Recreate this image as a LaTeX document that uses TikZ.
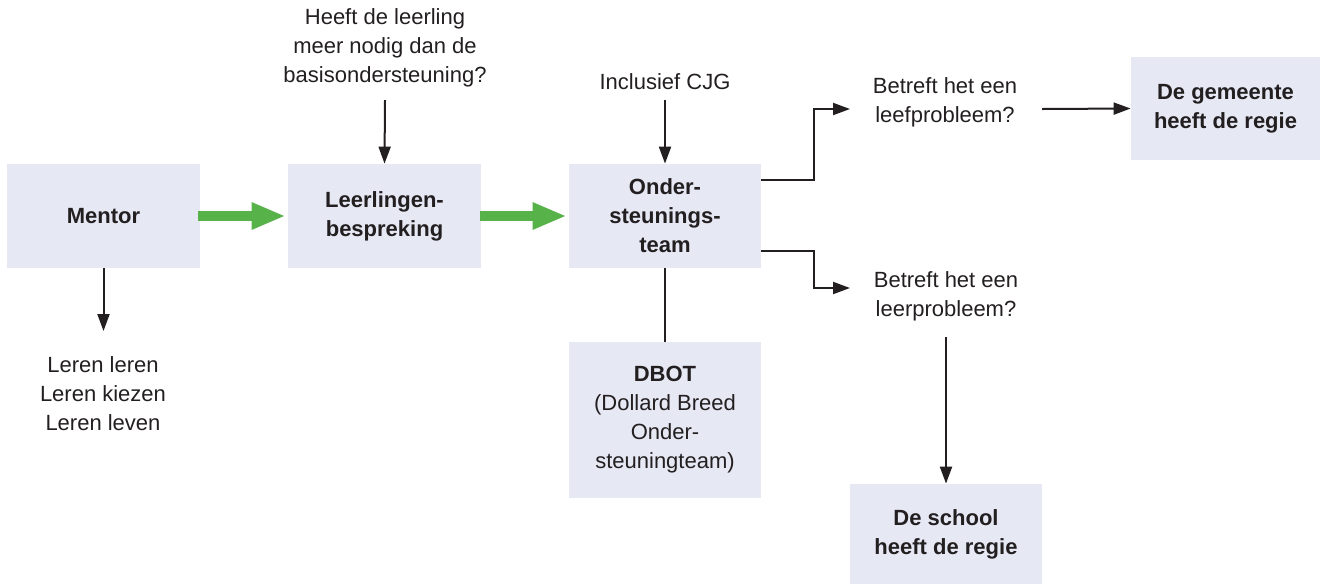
\documentclass[tikz,border=0pt]{standalone}
\usepackage{fontspec}
\setmainfont{Liberation Sans}
\usetikzlibrary{arrows.meta}
\definecolor{boxfill}{RGB}{230,232,244}
\definecolor{txt}{RGB}{35,31,32}
\definecolor{grn}{RGB}{87,178,74}
\tikzset{
  box/.style={fill=boxfill, draw=none, align=center, text=txt, inner sep=0pt,
    font=\fontsize{11pt}{14.5pt}\selectfont\bfseries},
  lbl/.style={align=center, text=txt, inner sep=0pt,
    font=\fontsize{11pt}{14.5pt}\selectfont},
  arr/.style={draw=txt, line width=1pt, -{Triangle[length=8.5pt,width=6pt]}},
  plain/.style={draw=txt, line width=1pt},
  garr/.style={draw=grn, line width=5pt, -{Triangle[length=17pt,width=12.5pt]}, shorten >=0pt}
}
\begin{document}
\begin{tikzpicture}[x=0.5pt,y=-0.5pt]
\useasboundingbox (0,0) rectangle (1320,585);
% boxes
\node[box, minimum width=96.5pt, minimum height=52pt] (mentor) at (103.5,216) {Mentor};
\node[box, minimum width=96.5pt, minimum height=52pt] (leerl) at (384.5,216) {Leerlingen-\\bespreking};
\node[box, minimum width=96pt, minimum height=52pt] (onder) at (665,216) {Onder-\\steunings-\\team};
\node[box, minimum width=96pt, minimum height=78pt] (dbot) at (665,420) {DBOT\\\mdseries(Dollard Breed\\\mdseries Onder-\\\mdseries steuningteam)};
\node[box, minimum width=96pt, minimum height=50pt] (school) at (946,534) {De school\\heeft de regie};
\node[box, minimum width=94.5pt, minimum height=51.5pt] (gemeente) at (1225.5,108.5) {De gemeente\\heeft de regie};
% labels
\node[lbl] (heeft) at (385,48) {Heeft de leerling\\meer nodig dan de\\basisondersteuning?};
\node[lbl] (cjg) at (665,82) {Inclusief CJG};
\node[lbl] (leef) at (945,102.5) {Betreft het een\\leefprobleem?};
\node[lbl] (leerp) at (946,296.5) {Betreft het een\\leerprobleem?};
\node[lbl] (leren) at (103,393.5) {Leren leren\\Leren kiezen\\Leren leven};
% free ends
\coordinate (h1) at (385,100);
\coordinate (c1) at (665,100);
\coordinate (m1) at (103.5,331);
\coordinate (b1) at (814,109);
\coordinate (b1e) at (850,109);
\coordinate (b2) at (814,288);
\coordinate (b2e) at (850,288);
\coordinate (lf1) at (1042,109);
\coordinate (lp1) at (946,337);
% green arrows
\draw[garr] ([xshift=-1pt]mentor.east) -- ([xshift=-1pt]leerl.west);
\draw[garr] ([xshift=-0.5pt]leerl.east) -- ([xshift=-1pt]onder.west);
% black connectors
\draw[arr] (h1) -- (leerl.north);
\draw[arr] (c1) -- (onder.north);
\draw[arr] (mentor.south) -- (m1);
\draw[plain] (onder.south) -- (dbot.north);
\draw[arr] ([yshift=18pt]onder.east) -| (b1) -- (b1e);
\draw[arr] ([yshift=-17.5pt]onder.east) -| (b2) -- (b2e);
\draw[arr] (lf1) -- (gemeente.west);
\draw[arr] (lp1) -- (school.north);
\end{tikzpicture}
\end{document}
